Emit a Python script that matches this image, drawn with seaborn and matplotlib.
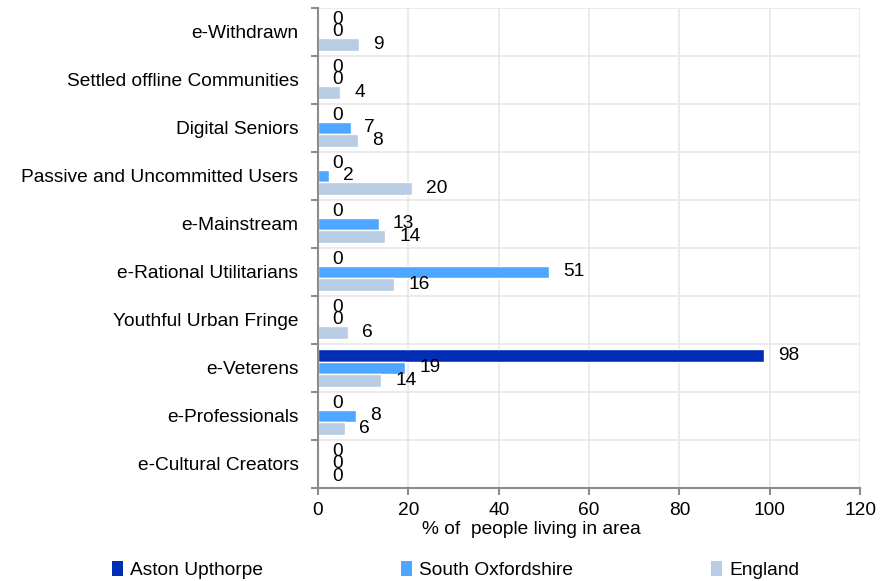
import matplotlib
matplotlib.use("Agg")
import matplotlib.pyplot as plt
import seaborn as sns
import pandas as pd
import numpy as np
from matplotlib.patches import Patch

categories = ["e-Withdrawn", "Settled offline Communities", "Digital Seniors",
              "Passive and Uncommitted Users", "e-Mainstream", "e-Rational Utilitarians",
              "Youthful Urban Fringe", "e-Veterens", "e-Professionals", "e-Cultural Creators"]
series = ["Aston Upthorpe", "South Oxfordshire", "England"]
aston = [0, 0, 0, 0, 0, 0, 0, 98.8, 0, 0]
south_oxon = [0, 0, 7.2, 2.4, 13.5, 51.2, 0, 19.3, 8.4, 0]
england = [9.1, 4.9, 8.9, 20.8, 14.9, 16.9, 6.7, 14.0, 6.0, 0]
colors = ["#002db3", "#4da6ff", "#b8cce4"]
xticks = [0, 20, 40, 60, 80, 100, 120]

sns.set_theme(style="white")
plt.rcParams["font.family"] = ["Liberation Sans", "DejaVu Sans"]
plt.rcParams["text.color"] = "black"
FS = 13.8

rows = []
for s, vals in zip(series, [aston, south_oxon, england]):
    for c, v in zip(categories, vals):
        rows.append({"cat": c, "series": s, "val": v})
df = pd.DataFrame(rows)

fig = plt.figure(figsize=(8.88, 5.81), dpi=100)
ax = fig.add_axes([318/888, 1-488/581, (860-318)/888, (488-8)/581])
sns.barplot(data=df, y="cat", x="val", hue="series", order=categories,
            hue_order=series, palette=colors, orient="h", width=0.8,
            dodge=True, ax=ax, legend=False, saturation=1)

for cont in ax.containers:
    ax.bar_label(cont, labels=[str(int(b.get_width())) for b in cont],
                 padding=10, fontsize=FS, color="black")

ax.set_xlim(0, 120)
ax.set_xticks(xticks)
ax.set_ylim(len(categories)-0.5, -0.5)
ax.set_yticks(np.arange(-0.5, len(categories)), minor=True)
ax.grid(True, axis="x", color="#ebebeb", linewidth=1.5)
ax.grid(True, axis="y", which="minor", color="#ebebeb", linewidth=1.5)
ax.set_axisbelow(True)
for side in ["top", "right"]:
    ax.spines[side].set_visible(False)
for side in ["left", "bottom"]:
    ax.spines[side].set_color("#8c8c8c")
    ax.spines[side].set_linewidth(1.5)
ax.tick_params(axis="y", which="major", length=0, labelsize=FS, pad=14, labelcolor="black")
ax.tick_params(axis="y", which="minor", length=5, width=1.5, color="#8c8c8c", left=True)
ax.tick_params(axis="x", length=5, width=1.5, color="#8c8c8c", bottom=True,
               labelsize=FS, labelcolor="black", pad=5)
ax.set_ylabel("")
ax.set_xlabel("% of  people living in area", fontsize=FS, labelpad=1, color="black")
ax.xaxis.set_label_coords((531-318)/542, -0.069)

handles = [Patch(facecolor=c, edgecolor="none") for c in colors]
fig.legend(handles, series, loc="center left", bbox_to_anchor=(112/888, 1-570/581),
           ncol=3, frameon=False, fontsize=FS, handlelength=0.55, handleheight=0.8,
           handletextpad=0.4, columnspacing=7.2, borderaxespad=0, borderpad=0,
           labelcolor="black")

fig.savefig("out.png", dpi=100)
